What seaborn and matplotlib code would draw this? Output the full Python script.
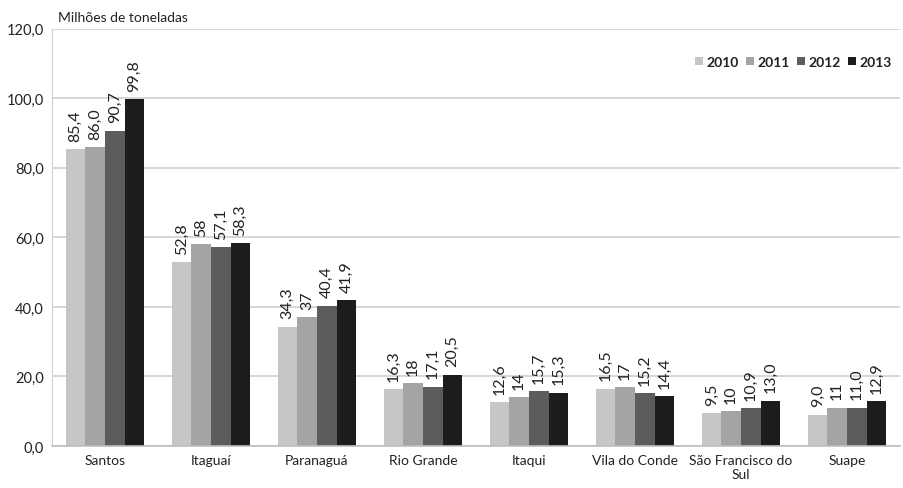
import matplotlib
matplotlib.use("Agg")
import matplotlib.pyplot as plt
import seaborn as sns
import pandas as pd

ports = ["Santos", "Itaguaí", "Paranaguá", "Rio Grande", "Itaqui",
         "Vila do Conde", "São Francisco do\nSul", "Suape"]
years = ["2010", "2011", "2012", "2013"]
v2010 = [85.4, 52.8, 34.3, 16.3, 12.6, 16.5, 9.5, 9.0]
v2011 = [86.0, 58.0, 37.0, 18.0, 14.0, 17.0, 10.0, 11.0]
v2012 = [90.7, 57.1, 40.4, 17.1, 15.7, 15.2, 10.9, 11.0]
v2013 = [99.8, 58.3, 41.9, 20.5, 15.3, 14.4, 13.0, 12.9]
l2010 = ["85,4", "52,8", "34,3", "16,3", "12,6", "16,5", "9,5", "9,0"]
l2011 = ["86,0", "58", "37", "18", "14", "17", "10", "11"]
l2012 = ["90,7", "57,1", "40,4", "17,1", "15,7", "15,2", "10,9", "11,0"]
l2013 = ["99,8", "58,3", "41,9", "20,5", "15,3", "14,4", "13,0", "12,9"]
yticks = [0, 20, 40, 60, 80, 100, 120]
ytick_labels = ["0,0", "20,0", "40,0", "60,0", "80,0", "100,0", "120,0"]
colors = ["#c6c6c6", "#a4a4a4", "#5c5c5c", "#1c1c1c"]

values = [v2010, v2011, v2012, v2013]
labels = [l2010, l2011, l2012, l2013]
rows = []
for y, vals in zip(years, values):
    for p, v in zip(ports, vals):
        rows.append({"Porto": p, "Ano": y, "Valor": v})
df = pd.DataFrame(rows)

sns.set_style("white")
plt.rcParams["font.family"] = ["Lato", "DejaVu Sans"]

fig = plt.figure(figsize=(9.04, 4.89), dpi=100)
ax = fig.add_axes([0.0575, 0.086, 0.938, 0.853])
sns.barplot(data=df, x="Porto", y="Valor", hue="Ano", palette=colors,
            width=0.74, ax=ax, saturation=1, edgecolor="none")

for cont, labs in zip(ax.containers, labels):
    ax.bar_label(cont, labels=labs, rotation=90, padding=6, fontsize=11.5,
                 color="#222222")

ax.set_ylim(0, 120)
ax.set_yticks(yticks)
ax.set_yticklabels(ytick_labels, fontsize=10.5, color="#222222")
ax.set_xlim(-0.5, len(ports) - 0.5)
ax.tick_params(axis="x", labelsize=10, colors="#222222", length=0, pad=6)
ax.tick_params(axis="y", length=0, pad=6)
ax.set_xlabel("")
ax.set_ylabel("")
ax.yaxis.grid(True, color="#cfcfcf", linewidth=1.2)
ax.set_axisbelow(True)
for s in ["top", "right"]:
    ax.spines[s].set_visible(False)
ax.spines["left"].set_color("#cfcfcf")
ax.spines["bottom"].set_color("#bdbdbd")
ax.spines["bottom"].set_linewidth(1.2)

fig.text(58 / 904, 1 - 18 / 489, "Milhões de toneladas",
         fontsize=10, color="#222222", ha="left", va="center")

leg = ax.legend(loc="upper right", bbox_to_anchor=(1.0, 0.955), ncol=4,
                frameon=False, handlelength=0.55, handleheight=0.55,
                handletextpad=0.25, columnspacing=0.55, fontsize=10,
                borderaxespad=0.2)
for t in leg.get_texts():
    t.set_fontweight("bold")
    t.set_color("#222222")

fig.savefig("out.png", dpi=100)
